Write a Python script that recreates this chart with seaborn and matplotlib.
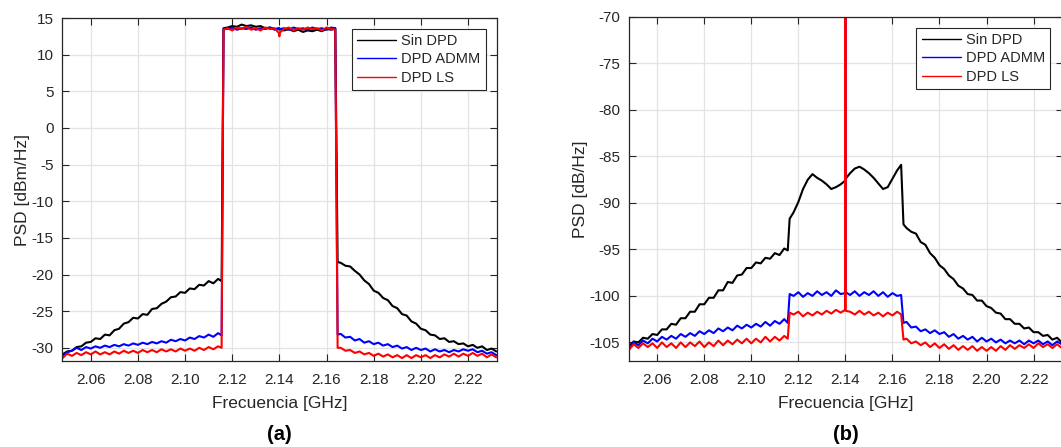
import numpy as np
import pandas as pd
import matplotlib
matplotlib.use("Agg")
import matplotlib.pyplot as plt
import seaborn as sns

# ---------------- data ----------------
FREQ = [2.048, 2.050, 2.052, 2.054, 2.056, 2.058, 2.060, 2.062, 2.064, 2.066,
        2.068, 2.070, 2.072, 2.074, 2.076, 2.078, 2.080, 2.082, 2.084, 2.086,
        2.088, 2.090, 2.092, 2.094, 2.096, 2.098, 2.100, 2.102, 2.104, 2.106,
        2.108, 2.110, 2.112, 2.114,
        2.1155, 2.1163,
        2.118, 2.120, 2.122, 2.124, 2.126, 2.128, 2.130, 2.132, 2.134, 2.136, 2.138,
        2.1399, 2.1400, 2.1401,
        2.142, 2.144, 2.146, 2.148, 2.150, 2.152, 2.154, 2.156, 2.158, 2.160, 2.162,
        2.1637, 2.1647,
        2.166, 2.168, 2.170, 2.172, 2.174, 2.176, 2.178, 2.180, 2.182, 2.184,
        2.186, 2.188, 2.190, 2.192, 2.194, 2.196, 2.198, 2.200, 2.202, 2.204,
        2.206, 2.208, 2.210, 2.212, 2.214, 2.216, 2.218, 2.220, 2.222, 2.224,
        2.226, 2.228, 2.230, 2.232]

# (a) PSD [dBm/Hz]
a_sin = [-30.9, -30.5, -30.4, -29.9, -29.8, -29.3, -29.2, -28.7, -28.8, -28.2,
         -28.3, -27.6, -27.4, -26.7, -26.5, -25.9, -26.0, -25.4, -25.5, -24.7,
         -24.6, -24.0, -23.7, -23.1, -23.0, -22.4, -22.5, -21.9, -22.0, -21.4,
         -21.5, -20.9, -21.2, -20.6,
         -20.9, 13.6,
         13.7, 13.9, 13.8, 14.1, 13.9, 14.0, 13.8, 13.9, 13.6, 13.7, 13.5,
         13.6, 13.4, 13.5,
         13.3, 13.5, 13.2, 13.4, 13.1, 13.3, 13.2, 13.4, 13.2, 13.5, 13.4,
         13.6, -18.3,
         -18.4, -18.8, -18.9, -19.5, -20.0, -20.8, -21.3, -22.2, -22.5, -23.2,
         -23.5, -24.3, -24.6, -25.4, -25.6, -26.4, -26.7, -27.4, -27.6, -28.2,
         -28.3, -28.8, -28.7, -29.2, -29.1, -29.5, -29.4, -29.8, -29.6, -30.0,
         -29.8, -30.3, -30.1, -30.5]
a_admm = [-31.1, -30.6, -30.4, -30.0, -30.3, -29.9, -30.1, -29.8, -30.0, -29.7,
          -29.9, -29.6, -29.8, -29.5, -29.7, -29.4, -29.6, -29.3, -29.5, -29.2,
          -29.4, -29.1, -29.3, -28.9, -29.1, -28.8, -29.0, -28.6, -28.8, -28.4,
          -28.6, -28.2, -28.5, -28.0,
          -28.3, 13.5,
          13.5, 13.7, 13.4, 13.6, 13.5, 13.7, 13.4, 13.6, 13.5, 13.7, 13.4,
          13.6, 13.5, 13.5,
          13.6, 13.4, 13.7, 13.5, 13.6, 13.4, 13.7, 13.5, 13.6, 13.4, 13.7,
          13.6, -28.2,
          -28.1, -28.6, -28.5, -29.0, -28.8, -29.3, -29.1, -29.5, -29.3, -29.7,
          -29.5, -29.9, -29.7, -30.1, -29.9, -30.3, -30.0, -30.3, -30.1, -30.5,
          -30.2, -30.5, -30.3, -30.6, -30.3, -30.5, -30.2, -30.4, -30.2, -30.6,
          -30.4, -30.8, -30.6, -31.0]
a_ls = [-31.4, -30.8, -31.1, -30.7, -31.0, -30.6, -30.9, -30.5, -30.9, -30.6,
        -30.9, -30.5, -30.8, -30.4, -30.7, -30.4, -30.7, -30.3, -30.6, -30.3,
        -30.6, -30.2, -30.5, -30.2, -30.5, -30.1, -30.4, -30.1, -30.4, -30.0,
        -30.3, -29.9, -30.2, -29.8,
        -30.0, 13.4,
        13.6, 13.3, 13.7, 13.5, 13.8, 13.4, 13.6, 13.3, 13.7, 13.5, 13.6,
        12.9, 12.5, 13.0,
        13.5, 13.7, 13.3, 13.6, 13.4, 13.7, 13.5, 13.6, 13.3, 13.7, 13.5,
        13.4, -30.0,
        -30.0, -30.4, -30.3, -30.7, -30.5, -30.9, -30.7, -31.1, -30.8, -31.2,
        -30.9, -31.3, -31.0, -31.4, -31.0, -31.4, -31.0, -31.3, -31.0, -31.4,
        -31.0, -31.3, -30.9, -31.2, -30.8, -31.2, -30.8, -31.1, -30.7, -31.1,
        -30.8, -31.3, -30.9, -31.3]

# (b) PSD [dB/Hz]
b_sin = [-105.4, -104.9, -105.0, -104.5, -104.6, -104.1, -104.2, -103.6, -103.6, -103.0,
         -103.1, -102.4, -102.4, -101.7, -101.7, -100.9, -100.9, -100.2, -100.2, -99.4,
         -99.4, -98.5, -98.6, -97.8, -97.7, -97.0, -97.0, -96.4, -96.5, -95.9,
         -96.0, -95.4, -95.6, -94.9,
         -95.1, -91.7,
         -91.0, -89.9, -88.5, -87.5, -86.9, -87.3, -87.6, -88.0, -88.5, -88.3, -88.0,
         -87.6, -88.3, -87.4,
         -86.8, -86.3, -86.1, -86.4, -86.8, -87.3, -87.9, -88.5, -88.3, -87.4, -86.5,
         -85.9, -92.3,
         -92.7, -93.1, -93.3, -94.2, -94.5, -95.4, -95.9, -96.7, -97.1, -97.8,
         -98.2, -98.9, -99.2, -99.8, -99.9, -100.5, -100.5, -101.1, -101.3, -101.8,
         -101.9, -102.5, -102.5, -103.0, -103.0, -103.5, -103.4, -103.9, -103.9, -104.3,
         -104.2, -104.7, -104.5, -105.0]
b_admm = [-105.7, -105.0, -105.3, -104.8, -105.1, -104.6, -104.9, -104.4, -104.7, -104.3,
          -104.6, -104.1, -104.4, -104.0, -104.3, -103.8, -104.1, -103.7, -104.0, -103.5,
          -103.8, -103.4, -103.7, -103.2, -103.5, -103.1, -103.4, -103.0, -103.3, -102.8,
          -103.2, -102.7, -103.0, -102.5,
          -102.9, -99.8,
          -100.0, -99.6, -100.1, -99.7, -100.0, -99.5, -99.9, -99.6, -100.0, -99.4, -99.8,
          -99.7, -40.0, -99.6,
          -99.9, -99.5, -100.0, -99.6, -99.9, -99.5, -100.0, -99.6, -100.1, -99.7, -100.0,
          -99.9, -102.9,
          -102.8, -103.4, -103.3, -103.8, -103.6, -104.0, -103.7, -104.1, -103.9, -104.4,
          -104.1, -104.6, -104.3, -104.7, -104.4, -104.9, -104.5, -104.9, -104.6, -105.0,
          -104.7, -105.1, -104.8, -105.1, -104.8, -105.2, -104.8, -105.1, -104.8, -105.2,
          -104.9, -105.3, -104.9, -105.2]
b_ls = [-105.8, -105.2, -105.6, -105.1, -105.5, -105.1, -105.6, -105.0, -105.5, -105.1,
        -105.6, -105.0, -105.5, -105.0, -105.4, -104.9, -105.5, -105.0, -105.4, -104.8,
        -105.3, -104.8, -105.2, -104.7, -105.1, -104.6, -105.1, -104.6, -105.0, -104.4,
        -104.9, -104.4, -104.8, -104.3,
        -104.6, -101.8,
        -102.0, -101.7, -102.2, -101.8, -102.1, -101.7, -102.0, -101.6, -101.9, -101.5, -101.8,
        -101.5, -40.0, -101.6,
        -101.7, -102.0, -101.6, -102.0, -101.7, -102.1, -101.8, -102.2, -101.8, -102.1, -101.7,
        -102.0, -104.7,
        -104.6, -105.1, -104.9, -105.3, -105.0, -105.5, -105.1, -105.6, -105.2, -105.7,
        -105.3, -105.8, -105.4, -105.8, -105.4, -105.9, -105.5, -105.9, -105.5, -105.9,
        -105.4, -105.8, -105.3, -105.7, -105.3, -105.6, -105.2, -105.6, -105.1, -105.5,
        -105.2, -105.6, -105.2, -105.6]

SERIES = ["Sin DPD", "DPD ADMM", "DPD LS"]
COLORS = ["#000000", "#0000ff", "#ff0000"]
XTICKS = [2.06, 2.08, 2.10, 2.12, 2.14, 2.16, 2.18, 2.20, 2.22]
YTICKS_A = [15, 10, 5, 0, -5, -10, -15, -20, -25, -30]
YTICKS_B = [-70, -75, -80, -85, -90, -95, -100, -105]

# ---------------- style ----------------
sns.set_style("whitegrid")
plt.rcParams['font.family'] = ['Liberation Sans', 'DejaVu Sans']
TXT = "#262626"

fig = plt.figure(figsize=(10.61, 4.47), dpi=100)
ax_a = fig.add_axes([62 / 1061, 1 - 361 / 447, 435 / 1061, 343 / 447])
ax_b = fig.add_axes([628.5 / 1061, 1 - 361 / 447, 434 / 1061, 344 / 447])


def draw(ax, series_vals, yticks, ylim, ylabel, tag, legend_anchor):
    for name, vals, col in zip(SERIES, series_vals, COLORS):
        df = pd.DataFrame({"f": FREQ, "psd": vals})
        sns.lineplot(data=df, x="f", y="psd", ax=ax, color=col, lw=1.5,
                     label=name, sort=False, estimator=None)
    ax.set_xlim(2.0478, 2.2323)
    ax.set_ylim(*ylim)
    ax.set_xticks(XTICKS)
    ax.set_xticklabels([f"{t:.2f}" for t in XTICKS])
    ax.set_yticks(yticks)
    ax.set_yticklabels([f"{t:g}" for t in yticks])
    ax.grid(True, color="#e3e3e3", lw=0.9)
    ax.set_axisbelow(True)
    for sp in ax.spines.values():
        sp.set_visible(True)
        sp.set_color(TXT)
        sp.set_linewidth(0.9)
    ax.tick_params(axis="both", direction="in", length=5, width=0.8, color=TXT,
                   labelsize=11, labelcolor=TXT, top=True, right=True,
                   bottom=True, left=True)
    ax.tick_params(axis="x", pad=9)
    ax.tick_params(axis="y", pad=6)
    ax.set_xlabel("Frecuencia [GHz]", fontsize=12.5, color=TXT, labelpad=6)
    ax.set_ylabel(ylabel, fontsize=12.5, color=TXT, labelpad=1)
    leg = ax.legend(loc="upper right", bbox_to_anchor=legend_anchor,
                    fontsize=10.5, frameon=True, fancybox=False,
                    handlelength=2.7, handletextpad=0.35, borderpad=0.35,
                    labelspacing=0.3, borderaxespad=0.0)
    leg.get_frame().set_edgecolor(TXT)
    leg.get_frame().set_linewidth(0.8)
    leg.get_frame().set_alpha(1.0)
    for line in leg.get_lines():
        line.set_linewidth(1.0)
    for t in leg.get_texts():
        t.set_color(TXT)
    ax.text(0.5, -0.213, tag, transform=ax.transAxes, ha="center", va="center",
            fontsize=14.5, fontweight="bold", color="#000000")


draw(ax_a, [a_sin, a_admm, a_ls], YTICKS_A, (-31.8, 15), "PSD [dBm/Hz]", "(a)",
     (0.974, 0.968))
draw(ax_b, [b_sin, b_admm, b_ls], YTICKS_B, (-107, -70), "PSD [dB/Hz]", "(b)",
     (0.972, 0.968))

fig.savefig("out.png", dpi=100)
